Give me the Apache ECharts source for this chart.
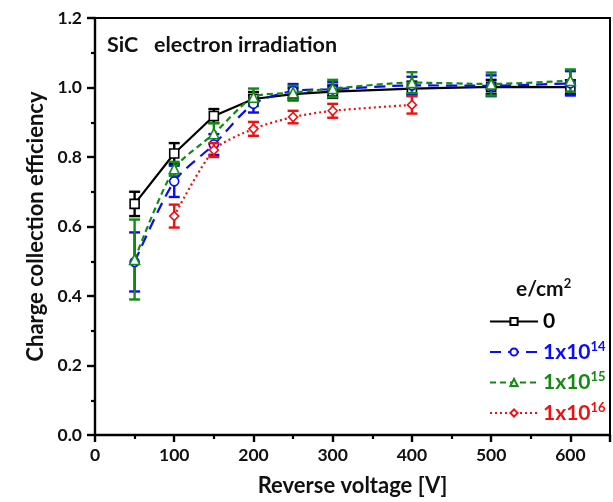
<!DOCTYPE html>
<html>
<head>
<meta charset="utf-8">
<script src="https://cdn.jsdelivr.net/npm/echarts@6/dist/echarts.min.js"></script>
<style>
  html, body { margin: 0; padding: 0; background: #fff; }
  #chart { width: 613px; height: 502px; }
</style>
</head>
<body>
<div id="chart"></div>
<script>
// Reverse bias voltages [V]
const voltages = [50, 100, 150, 200, 250, 300, 400, 500, 600];

// Charge collection efficiency per fluence (null = not measured)
const cce0   = [0.665, 0.810, 0.918, 0.967, 0.981, 0.988, 0.997, 1.002, 1.001];
const cce1e14 = [0.498, 0.730, 0.836, 0.953, 0.990, 0.995, 1.006, 1.005, 1.012];
const cce1e15 = [0.505, 0.766, 0.867, 0.972, 0.985, 0.997, 1.014, 1.010, 1.020];
const cce1e16 = [null, 0.630, 0.820, 0.881, 0.915, 0.933, 0.950, null, null];

// Symmetric error (±)
const err0    = [0.035, 0.030, 0.020, 0.020, 0.018, 0.018, 0.020, 0.020, 0.020];
const err1e14 = [0.085, 0.045, 0.030, 0.025, 0.020, 0.020, 0.025, 0.030, 0.035];
const err1e15 = [0.115, 0.020, 0.030, 0.025, 0.020, 0.025, 0.030, 0.033, 0.032];
const err1e16 = [null, 0.033, 0.020, 0.020, 0.018, 0.020, 0.025, null, null];

const xTicks = [0, 100, 200, 300, 400, 500, 600];
const yTicks = [0.0, 0.2, 0.4, 0.6, 0.8, 1.0, 1.2];

const FONT = 'Lato';

const groups = [
  { name: '0',    sup: '',   vals: cce0,    errs: err0,    color: '#000000', dash: 'solid', symbol: 'rect',     smooth: false },
  { name: '1x10', sup: '14', vals: cce1e14, errs: err1e14, color: '#0a0aff', dash: [11, 7], symbol: 'circle',   smooth: 0.25 },
  { name: '1x10', sup: '15', vals: cce1e15, errs: err1e15, color: '#138a13', dash: [6, 4],  symbol: 'triangle', smooth: 0.25 },
  { name: '1x10', sup: '16', vals: cce1e16, errs: err1e16, color: '#f01010', dash: [2, 3],  symbol: 'diamond',  smooth: 0.25 }
];

function pairs(vals) {
  const out = [];
  vals.forEach((v, i) => { if (v !== null) out.push([voltages[i], v]); });
  return out;
}

function errTriples(vals, errs) {
  const out = [];
  vals.forEach((v, i) => { if (v !== null) out.push([voltages[i], v - errs[i], v + errs[i]]); });
  return out;
}

function errorRender(color) {
  return function (params, api) {
    const x = api.value(0);
    const lo = api.coord([x, api.value(1)]);
    const hi = api.coord([x, api.value(2)]);
    const cap = 5.5;
    const style = { stroke: color, lineWidth: 2.4 };
    return {
      type: 'group',
      children: [
        { type: 'line', shape: { x1: lo[0], y1: lo[1], x2: hi[0], y2: hi[1] }, style },
        { type: 'line', shape: { x1: lo[0] - cap, y1: lo[1], x2: lo[0] + cap, y2: lo[1] }, style },
        { type: 'line', shape: { x1: hi[0] - cap, y1: hi[1], x2: hi[0] + cap, y2: hi[1] }, style }
      ]
    };
  };
}

const seriesList = [];
const legendData = [];
groups.forEach((g, idx) => {
  const label = g.sup ? g.name + '^' + g.sup : g.name;
  seriesList.push({
    type: 'custom',
    name: label + ' err',
    renderItem: errorRender(g.color),
    data: errTriples(g.vals, g.errs),
    z: 2 + idx,
    silent: true
  });
  seriesList.push({
    type: 'line',
    name: label,
    data: pairs(g.vals),
    smooth: g.smooth,
    symbol: g.symbol,
    symbolSize: g.symbol === 'triangle' ? 10 : 9,
    showAllSymbol: true,
    lineStyle: { color: g.color, width: 2.2, type: g.dash },
    itemStyle: { color: '#ffffff', borderColor: g.color, borderWidth: 1.6 },
    z: 3 + idx
  });
  legendData.push({
    name: label,
    textStyle: {
      rich: {
        b: { color: g.color, fontFamily: FONT, fontWeight: 'bold', fontSize: 21 },
        s: { color: g.color, fontFamily: FONT, fontWeight: 'bold', fontSize: 13, verticalAlign: 'bottom', padding: [0, 0, 11, 0] }
      }
    }
  });
});

const chart = echarts.init(document.getElementById('chart'));
chart.setOption({
  backgroundColor: '#ffffff',
  animation: false,
  title: [
    {
      text: 'SiC   electron irradiation',
      left: 102, top: 29,
      textStyle: { fontFamily: FONT, fontWeight: 'bold', fontSize: 21.5, color: '#111' }
    },
    {
      text: '{a|e/cm}{s|2}',
      left: 511, top: 272,
      textStyle: {
        rich: {
          a: { fontFamily: FONT, fontWeight: 'bold', fontSize: 21, color: '#111' },
          s: { fontFamily: FONT, fontWeight: 'bold', fontSize: 13, color: '#111', verticalAlign: 'bottom', padding: [0, 0, 11, 0] }
        }
      }
    }
  ],
  legend: {
    data: legendData,
    orient: 'vertical',
    left: 484, top: 306,
    itemWidth: 48, itemHeight: 9,
    itemGap: 8,
    formatter: function (name) {
      const parts = name.split('^');
      return parts.length > 1 ? '{b|' + parts[0] + '}{s|' + parts[1] + '}' : '{b|' + parts[0] + '}';
    },
    textStyle: { fontFamily: FONT, fontWeight: 'bold', fontSize: 21 }
  },
  grid: {
    left: 95, top: 18, width: 521, height: 422,
    show: true, borderColor: '#000', borderWidth: 2, containLabel: false
  },
  xAxis: {
    type: 'value', min: 0, max: 650, interval: 100,
    name: 'Reverse voltage [V]', nameLocation: 'middle', nameGap: 40,
    nameTextStyle: { fontFamily: FONT, fontWeight: 'bold', fontSize: 22, color: '#111' },
    axisLine: { show: true, onZero: false, lineStyle: { color: '#000', width: 2.4 } },
    axisTick: { show: true, inside: false, length: 7, lineStyle: { width: 2.4, color: '#000' } },
    minorTick: { show: true, splitNumber: 2, length: 4, lineStyle: { width: 2.2, color: '#000' } },
    splitLine: { show: false },
    axisLabel: {
      fontFamily: FONT, fontWeight: 'bold', fontSize: 17.5, color: '#111', margin: 11,
      formatter: function (v) { return xTicks.indexOf(v) >= 0 ? String(v) : ''; }
    }
  },
  yAxis: {
    type: 'value', min: 0, max: 1.2, interval: 0.2,
    name: 'Charge collection efficiency', nameLocation: 'middle', nameGap: 48,
    nameTextStyle: { fontFamily: FONT, fontWeight: 'bold', fontSize: 22, color: '#111' },
    axisLine: { show: true, onZero: false, lineStyle: { color: '#000', width: 2.4 } },
    axisTick: { show: true, inside: false, length: 8, lineStyle: { width: 2.4, color: '#000' } },
    minorTick: { show: true, splitNumber: 2, length: 4, lineStyle: { width: 2.2, color: '#000' } },
    splitLine: { show: false },
    axisLabel: {
      fontFamily: FONT, fontWeight: 'bold', fontSize: 17.5, color: '#111', margin: 13,
      formatter: function (v) {
        const t = yTicks.find(y => Math.abs(y - v) < 1e-9);
        return t === undefined ? '' : t.toFixed(1);
      }
    }
  },
  series: seriesList
});
</script>
</body>
</html>
